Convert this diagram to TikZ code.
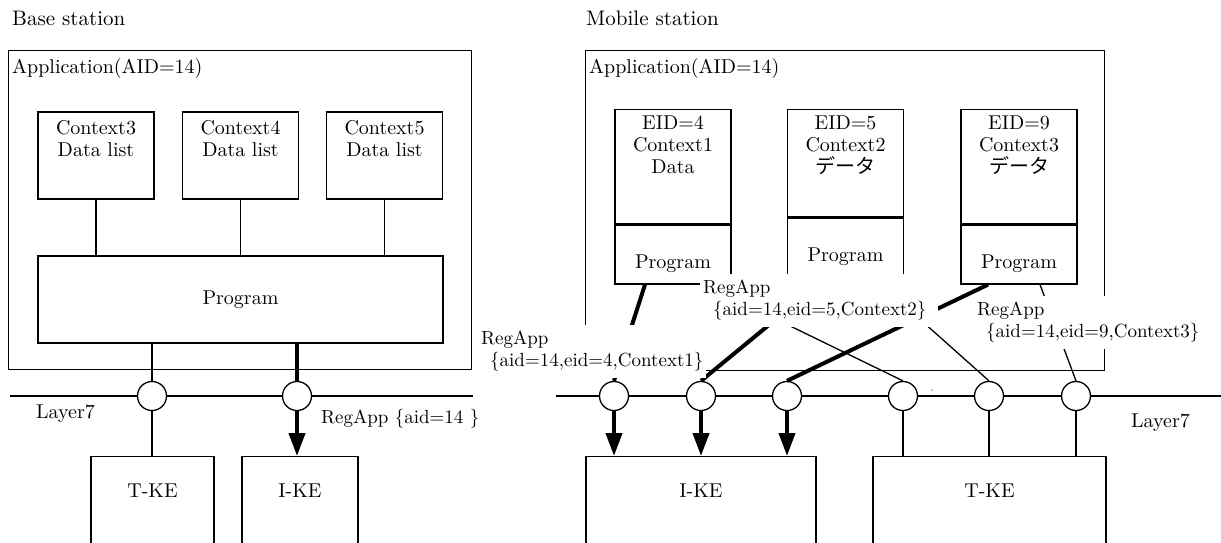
\documentclass[tikz,border=0pt]{standalone}
\usepackage{fontspec}
\setmainfont{lmroman10-regular.otf}
\newfontfamily\jpfont{Noto Sans CJK JP}
\usetikzlibrary{positioning,arrows.meta}

\begin{document}
\begin{tikzpicture}[
  x=1pt, y=-1pt,
  every node/.style={font=\fontsize{20}{22}\selectfont},
  txt/.style={inner sep=0pt, anchor=base west},
  title/.style={txt, font=\fontsize{21}{24}\selectfont},
  appbox/.style={rectangle, draw, line width=1.3pt, inner sep=0pt, anchor=north west},
  ctxbox/.style={rectangle, draw, line width=1.3pt, inner sep=0pt, minimum width=116pt, minimum height=87pt},
  port/.style={circle, draw, fill=white, line width=1.3pt, minimum size=29pt, inner sep=0pt},
  link/.style={line width=1.3pt},
  msg/.style={line width=4pt},
  msgarrow/.style={line width=4pt, -{Triangle[length=23pt,width=16pt]}},
  msglabel/.style={fill=white, align=left, inner xsep=3pt, inner ysep=6pt, anchor=north west, font=\fontsize{19}{22}\selectfont}
]
\clip (0,0) rectangle (1221,542);

% base station
\node[title] (bs) at (12,25) {Base station};
\node[appbox, minimum width=463pt, minimum height=319pt] (bapp) at (8,50) {};
\node[txt] (bappt) at (12,73) {Application(AID=14)};
\node[ctxbox] (bc3) at (96,155.5) {};
\node[align=center, below=5.5pt of bc3.north] (bc3t) {Context3\\Data list};
\node[ctxbox] (bc4) at (240.5,155.5) {};
\node[align=center, below=5.5pt of bc4.north] (bc4t) {Context4\\Data list};
\node[ctxbox] (bc5) at (384.5,155.5) {};
\node[align=center, below=5.5pt of bc5.north] (bc5t) {Context5\\Data list};
\node[ctxbox, minimum width=405pt] (bprog) at (240.5,299.5) {Program};

\coordinate (bl0) at (10,396);
\coordinate (bl1) at (473,396);
\draw[link] (bl0) -- (bl1);
\node[port] (bp1) at (152,396) {};
\node[port] (bp2) at (297,396) {};
\node[ctxbox, anchor=north, minimum width=123pt, minimum height=100pt] (btke) at (152.5,456) {};
\node[below=24pt of btke.north] (btket) {T-KE};
\node[ctxbox, anchor=north, minimum width=116pt, minimum height=100pt] (bike) at (300,456) {};
\node[below=24pt of bike.north] (biket) {I-KE};

\draw[link] (bc3) -- (bc3 |- bprog.north);
\draw[link] (bc4) -- (bc4 |- bprog.north);
\draw[link] (bc5) -- (bc5 |- bprog.north);
\draw[link] (bp1 |- bprog.south) -- (bp1);
\draw[link] (bp1) -- (bp1 |- btke.north);
\draw[msg] (bp2 |- bprog.south) -- (bp2);
\draw[msgarrow] (bp2) -- (bp2 |- bike.north);
\node[txt] (bl7) at (36,418) {Layer7};
\node[txt, font=\fontsize{19}{22}\selectfont] (breg) at (321,423) {RegApp \{aid=14 \}};

% mobile station
\node[title] (ms) at (586,25) {Mobile station};
\node[appbox, minimum width=519pt, minimum height=320pt] (mapp) at (585,50) {};
\node[txt] (mappt) at (589,73) {Application(AID=14)};
\node[ctxbox, anchor=north, minimum height=114pt] (m1) at (673,109) {};
\node[align=center, below=3pt of m1.north] (m1t) {EID=4\\Context1\\Data};
\node[ctxbox, anchor=north, minimum height=59pt, text height=32pt] (m1p) at (m1.south) {Program};
\node[ctxbox, anchor=north, minimum height=107pt] (m2) at (845.5,109) {};
\node[align=center, below=3pt of m2.north] (m2t) {EID=5\\Context2\\{\jpfont データ}};
\node[ctxbox, anchor=north, minimum height=66pt, text height=26pt] (m2p) at (m2.south) {Program};
\node[ctxbox, anchor=north, minimum height=114pt] (m3) at (1019,109) {};
\node[align=center, below=3pt of m3.north] (m3t) {EID=9\\Context3\\{\jpfont データ}};
\node[ctxbox, anchor=north, minimum height=59pt, text height=32pt] (m3p) at (m3.south) {Program};

\coordinate (ml0) at (556,396);
\coordinate (ml1) at (1221,396);
\draw[link] (ml0) -- (ml1);
\node[port] (mp1) at (614,396) {};
\node[port] (mp2) at (701,396) {};
\node[port] (mp3) at (787,396) {};
\node[port] (mp4) at (903,396) {};
\node[port] (mp5) at (989,396) {};
\node[port] (mp6) at (1076,396) {};
\node[ctxbox, anchor=north, minimum width=230pt, minimum height=100pt] (mike) at (701,456) {};
\node[below=24pt of mike.north] (miket) {I-KE};
\node[ctxbox, anchor=north, minimum width=233pt, minimum height=100pt] (mtke) at (989.5,456) {};
\node[below=24pt of mtke.north] (mtket) {T-KE};

\draw[msg] ([xshift=-28pt]m1p.south) -- (mp1.north);
\draw[msg] ([xshift=-27.5pt]m2p.south) -- (mp2.north);
\draw[msg] ([xshift=-31pt]m3p.south) -- (mp3.north);
\draw[link] ([xshift=32pt]m1p.south) -- (mp4.north);
\draw[link] ([xshift=35.5pt]m2p.south) -- (mp5.north);
\draw[link] ([xshift=21pt]m3p.south) -- (mp6.north);
\draw[msgarrow] (mp1) -- (mp1 |- mike.north);
\draw[msgarrow] (mp2) -- (mp2 |- mike.north);
\draw[msgarrow] (mp3) -- (mp3 |- mike.north);
\draw[link] (mp4) -- (mp4 |- mtke.north);
\draw[link] (mp5) -- (mp5 |- mtke.north);
\draw[link] (mp6) -- (mp6 |- mtke.north);

\node[msglabel] (reg1) at (478,325) {RegApp\\\hspace*{9pt}\{aid=14,eid=4,Context1\}};
\node[msglabel, text width=232pt] (reg2) at (700,274) {RegApp\\\hspace*{10pt}\{aid=14,eid=5,Context2\}};
\node[msglabel] (reg3) at (974,296) {RegApp\\\hspace*{9pt}\{aid=14,eid=9,Context3\}};
\fill (932,390) circle (0.7pt);
\node[txt] (ml7) at (1131,427) {Layer7};
\end{tikzpicture}
\end{document}
